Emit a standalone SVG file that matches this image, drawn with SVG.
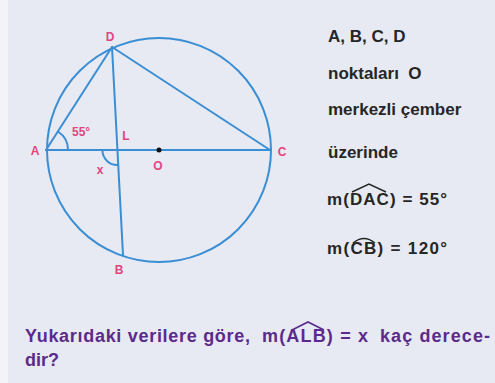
<svg xmlns="http://www.w3.org/2000/svg" width="495" height="383" viewBox="0 0 495 383">
<style>
.ln{fill:none;stroke:#3a8ed4;stroke-width:2;stroke-linecap:round}
.lbl{font-family:"Liberation Sans",Arial,sans-serif;font-weight:bold;font-size:12px;fill:#e2457f}
.rt{font-family:"Liberation Sans",Arial,sans-serif;font-weight:bold;font-size:17px;fill:#262626}
.bt{font-family:"Liberation Sans",Arial,sans-serif;font-weight:bold;font-size:18px;fill:#5b2b8c}
.hat{fill:none;stroke:#262626;stroke-width:1.4}
.hatb{fill:none;stroke:#5b2b8c;stroke-width:1.6}
</style>
<rect width="495" height="383" fill="#e7eaf2"/>
<rect x="0" y="0" width="8" height="383" fill="#f3f4f8"/>
<g id="connectors">
<line class="ln" x1="46" y1="150" x2="270" y2="150"/>
<line class="ln" x1="46" y1="150" x2="112" y2="47"/>
<line class="ln" x1="112" y1="47" x2="270" y2="150"/>
<line class="ln" x1="112" y1="47" x2="123" y2="255"/>
<path class="ln" d="M68,150 A22,22 0 0 0 57.9,131.5" stroke-width="1.6"/>
<path class="ln" d="M102.4,150 A15,15 0 0 0 118.2,165" stroke-width="1.6" stroke="#2f5f9a"/>
</g>
<g id="circle">
<circle class="ln" cx="159" cy="150" r="112"/>
</g>
<g id="O">
<circle cx="159" cy="150" r="2.5" fill="#111"/>
<text class="lbl" x="158" y="170" text-anchor="middle">O</text>
</g>
<g id="A"><text class="lbl" x="35" y="155" text-anchor="middle">A</text></g>
<g id="B"><text class="lbl" x="119" y="274" text-anchor="middle">B</text></g>
<g id="C"><text class="lbl" x="282" y="156" text-anchor="middle">C</text></g>
<g id="D"><text class="lbl" x="110" y="41" text-anchor="middle">D</text></g>
<g id="L"><text class="lbl" x="126" y="140" text-anchor="middle">L</text></g>
<g id="x"><text class="lbl" x="100" y="174" text-anchor="middle" font-size="13px">x</text></g>
<g id="angle55"><text class="lbl" x="72" y="136" font-size="11px">55°</text></g>
<g id="given">
<text class="rt" x="328" y="42">A, B, C, D</text>
<text class="rt" x="328" y="79" xml:space="preserve">noktaları  O</text>
<text class="rt" x="328" y="115">merkezli çember</text>
<text class="rt" x="328" y="158">üzerinde</text>
<text class="rt" x="327" y="205" textLength="120">m(DAC) = 55°</text>
<path class="hat" d="M352,192 L369,184 L386,192"/>
<text class="rt" x="327" y="254" textLength="120">m(CB) = 120°</text>
<path class="hat" d="M353,243 Q364,234 375,243"/>
</g>
<g id="question">
<text class="bt" x="25" y="342" textLength="225">Yukarıdaki verilere göre,</text>
<text class="bt" x="262" y="342" textLength="106">m(ALB) = x</text>
<path class="hatb" d="M292,330 L308,322 L324,330"/>
<text class="bt" x="380" y="342" textLength="110">kaç derece-</text>
<text class="bt" x="25" y="366">dir?</text>
</g>
</svg>
